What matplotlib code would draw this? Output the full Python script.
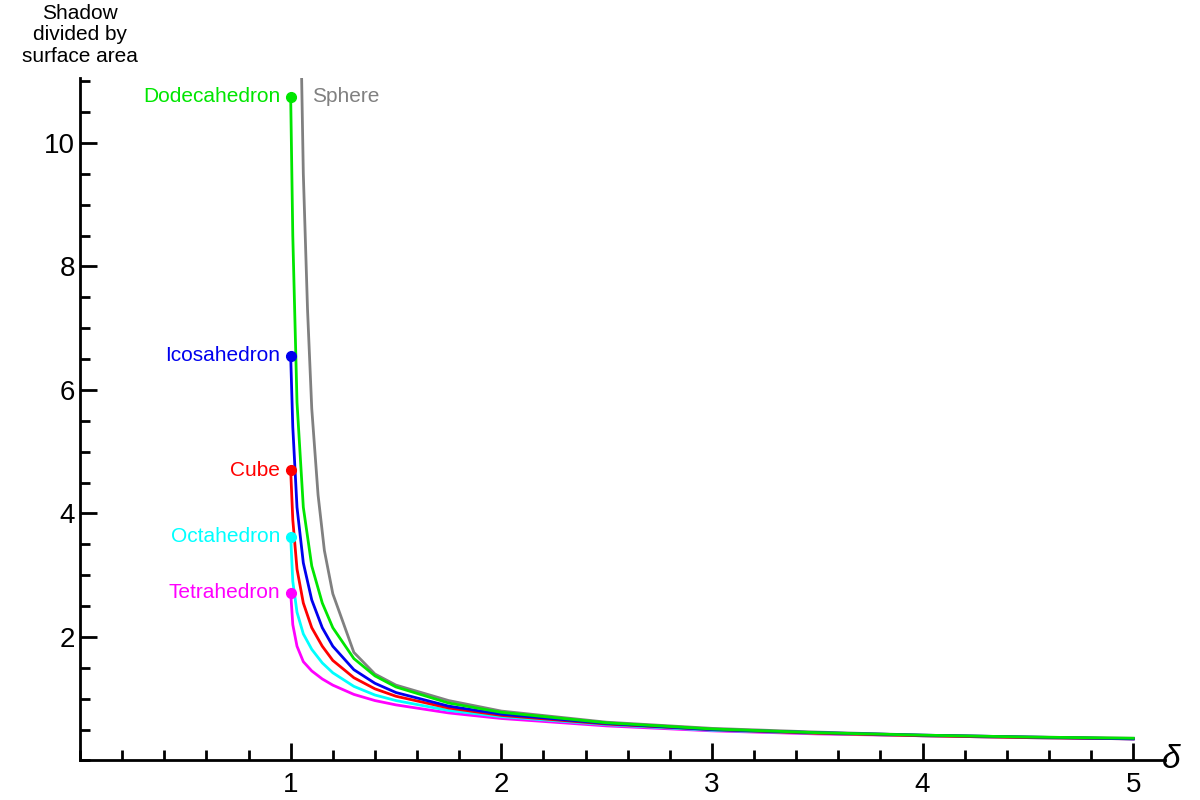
import matplotlib
matplotlib.use("Agg")
import matplotlib.pyplot as plt
from matplotlib.ticker import MultipleLocator

plt.rcParams["font.family"] = "Liberation Sans"

x_poly = [1, 1.01, 1.03, 1.06, 1.1, 1.15, 1.2, 1.3, 1.4, 1.5, 1.75, 2, 2.5, 3, 3.5, 4, 4.5, 5]
tetra = [2.72, 2.2, 1.85, 1.6, 1.45, 1.32, 1.22, 1.07, 0.97, 0.90, 0.77, 0.68, 0.56, 0.48, 0.43, 0.40, 0.37, 0.35]
octa = [3.62, 2.9, 2.4, 2.05, 1.8, 1.58, 1.42, 1.2, 1.06, 0.97, 0.81, 0.71, 0.58, 0.49, 0.44, 0.40, 0.37, 0.35]
cube = [4.7, 3.9, 3.1, 2.55, 2.15, 1.85, 1.62, 1.34, 1.16, 1.04, 0.85, 0.73, 0.59, 0.50, 0.44, 0.40, 0.37, 0.35]
icosa = [6.55, 5.4, 4.1, 3.2, 2.6, 2.15, 1.85, 1.47, 1.25, 1.10, 0.88, 0.75, 0.60, 0.50, 0.45, 0.41, 0.38, 0.35]
dodeca = [10.75, 8.5, 5.8, 4.1, 3.15, 2.55, 2.15, 1.65, 1.37, 1.19, 0.93, 0.78, 0.61, 0.51, 0.45, 0.41, 0.38, 0.36]

x_sphere = [1.052, 1.06, 1.08, 1.1, 1.13, 1.16, 1.2, 1.3, 1.4, 1.5, 1.75, 2, 2.5, 3, 3.5, 4, 4.5, 5]
sphere = [11.05, 9.5, 7.3, 5.7, 4.3, 3.4, 2.7, 1.75, 1.4, 1.22, 0.97, 0.80, 0.62, 0.52, 0.46, 0.41, 0.38, 0.36]

names = ["Dodecahedron", "Icosahedron", "Cube", "Octahedron", "Tetrahedron"]
series = [dodeca, icosa, cube, octa, tetra]
colors = ["#00e600", "#0000ee", "#ff0000", "#00ffff", "#ff00ff"]

fig = plt.figure(figsize=(12, 8), dpi=100)
ax = fig.add_axes([0.0667, 0.0494, 0.904, 0.853])

ax.plot(x_sphere, sphere, color="#808080", lw=2)
for name, ys, c in zip(names[::-1], series[::-1], colors[::-1]):
    ax.plot(x_poly, ys, color=c, lw=2)
for name, ys, c in zip(names, series, colors):
    ax.plot(x_poly[0], ys[0], "o", color=c, ms=7, zorder=5)
    ax.text(x_poly[0] - 0.05, ys[0], name, color=c, fontsize=15,
            ha="right", va="center")
ax.text(1.1, 10.75, "Sphere", color="#808080", fontsize=15, ha="left", va="center")

ax.set_xlim(0, 5.15)
ax.set_ylim(0, 11.05)
for s in ["top", "right"]:
    ax.spines[s].set_visible(False)
ax.spines["left"].set_linewidth(2)
ax.spines["bottom"].set_linewidth(2)
ax.xaxis.set_major_locator(MultipleLocator(1))
ax.xaxis.set_minor_locator(MultipleLocator(0.2))
ax.yaxis.set_major_locator(MultipleLocator(2))
ax.yaxis.set_minor_locator(MultipleLocator(0.5))
ax.set_xticks([1, 2, 3, 4, 5])
ax.set_yticks([2, 4, 6, 8, 10])
ax.tick_params(which="major", direction="in", length=12, width=2, labelsize=20)
ax.tick_params(which="minor", direction="in", length=7, width=2)
ax.tick_params(axis="x", pad=8)

fig.text(0.968, 0.05, "δ", fontsize=24, style="italic", ha="left", va="center")
fig.text(0.0667, 0.995, "Shadow\ndivided by\nsurface area", fontsize=15,
         ha="center", va="top", linespacing=1.15)

fig.savefig("out.png", dpi=100)
